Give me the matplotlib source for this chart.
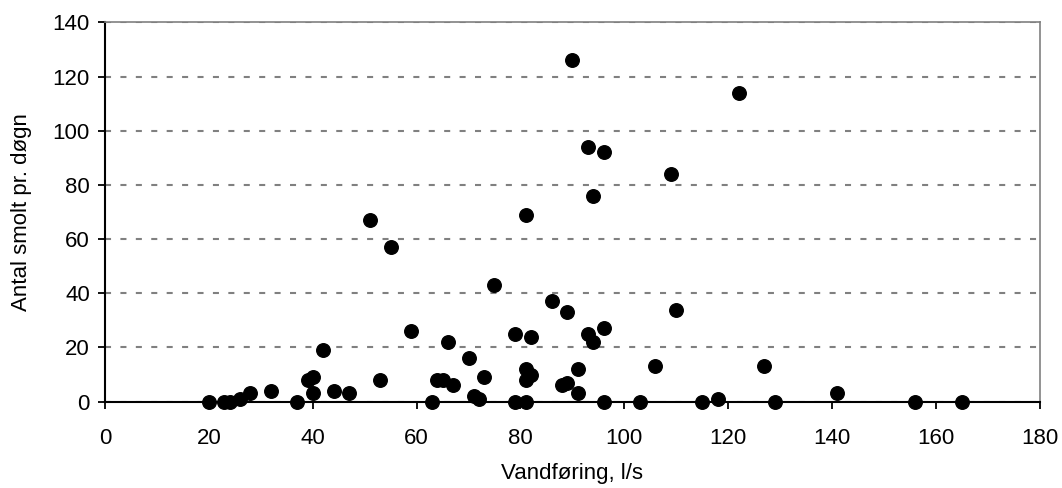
import matplotlib
matplotlib.use('Agg')
import matplotlib.pyplot as plt

plt.rcParams['font.family'] = ['Liberation Sans', 'DejaVu Sans']

# vandføring (l/s) og antal smolt pr. døgn
flow = [20, 23, 24, 26, 28, 32, 37, 39, 40, 40, 42, 44, 47, 51, 53, 55, 59,
        63, 64, 65, 66, 67, 70, 71, 72, 73, 75, 79, 79, 81, 81, 81, 81, 82, 82,
        86, 88, 89, 89, 90, 91, 91, 93, 93, 94, 94, 96, 96, 96, 103, 106, 109,
        110, 115, 118, 122, 127, 129, 141, 156, 165]
smolt = [0, 0, 0, 1, 3, 4, 0, 8, 9, 3, 19, 4, 3, 67, 8, 57, 26,
         0, 8, 8, 22, 6, 16, 2, 1, 9, 43, 25, 0, 69, 12, 8, 0, 24, 10,
         37, 6, 7, 33, 126, 12, 3, 94, 25, 76, 22, 92, 27, 0, 0, 13, 84,
         34, 0, 1, 114, 13, 0, 3, 0, 0]

x_ticks = [0, 20, 40, 60, 80, 100, 120, 140, 160, 180]
y_ticks = [0, 20, 40, 60, 80, 100, 120, 140]

fig = plt.figure(figsize=(10.62, 4.88), dpi=100)
ax = fig.add_axes([0.0989, 0.177, 0.8801, 0.777])

ax.scatter(flow, smolt, s=95, color='black', zorder=3, clip_on=False)

ax.set_xlim(0, 180)
ax.set_ylim(0, 140)
ax.set_xticks(x_ticks)
ax.set_yticks(y_ticks)

# stiplede gitterlinjer
ax.yaxis.grid(True, color='#808080', linewidth=1.5, linestyle=(0, (2.9, 4.5)))
ax.set_axisbelow(True)

for side in ['left', 'bottom']:
    ax.spines[side].set_color('black')
    ax.spines[side].set_linewidth(1.5)
for side in ['top', 'right']:
    ax.spines[side].set_color('#808080')
    ax.spines[side].set_linewidth(1.2)

ax.tick_params(direction='out', length=5, width=1.3, labelsize=16)
ax.tick_params(axis='x', pad=14)
ax.tick_params(axis='y', pad=6)

ax.set_xlabel('Vandføring, l/s', fontsize=16, labelpad=10)
ax.set_ylabel('Antal smolt pr. døgn', fontsize=16, labelpad=15)

plt.savefig('out.png', dpi=100)
plt.close()
